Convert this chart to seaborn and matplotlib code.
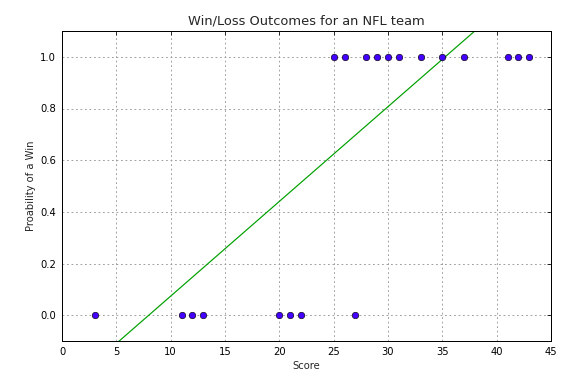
import numpy as np
import pandas as pd
import seaborn as sns
import matplotlib
matplotlib.use('Agg')
import matplotlib.pyplot as plt

# data
loss_scores = [3, 11, 12, 13, 20, 21, 22, 27]
win_scores = [25, 26, 28, 29, 30, 31, 33, 35, 37, 41, 42, 43]
# fitted linear model (slope, intercept) for the green line
fit_slope = 0.03667
fit_intercept = -0.293

scores = loss_scores + win_scores
outcome = [0] * len(loss_scores) + [1] * len(win_scores)
df = pd.DataFrame({'Score': scores, 'Win': outcome})

sns.set_style('white')
plt.rcParams['font.family'] = ['DejaVu Sans']

fig = plt.figure(figsize=(579 / 72, 384 / 72), dpi=72)
ax = fig.add_axes([62 / 579, 1 - 341 / 384, (551 - 62) / 579, (341 - 31) / 384])

line_x = np.array([0, 45])
line_df = pd.DataFrame({'x': line_x, 'y': fit_intercept + fit_slope * line_x})
sns.lineplot(data=line_df, x='x', y='y', color='#00a000', linewidth=1.2, ax=ax, zorder=2)
sns.scatterplot(data=df, x='Score', y='Win', color='#4400ff', edgecolor='black',
                linewidth=0.6, s=42, ax=ax, zorder=3)

ax.set_xlim(0, 45)
ax.set_ylim(-0.1, 1.1)
ax.set_xticks(range(0, 46, 5))
ax.set_yticks([0.0, 0.2, 0.4, 0.6, 0.8, 1.0])
ax.set_yticklabels(['0.0', '0.2', '0.4', '0.6', '0.8', '1.0'])
ax.grid(True, color='#999999', linestyle=(0, (2, 3)), linewidth=0.9)
ax.tick_params(direction='in', length=4, width=0.8, top=True, right=True,
               labelsize=10, colors='black', pad=6)
for sp in ax.spines.values():
    sp.set_color('black')
    sp.set_linewidth(1.0)

ax.set_title('Win/Loss Outcomes for an NFL team', fontsize=13)
ax.set_xlabel('Score', fontsize=10)
ax.set_ylabel('Proability of a Win', fontsize=10)

fig.savefig('out.png', dpi=72)
